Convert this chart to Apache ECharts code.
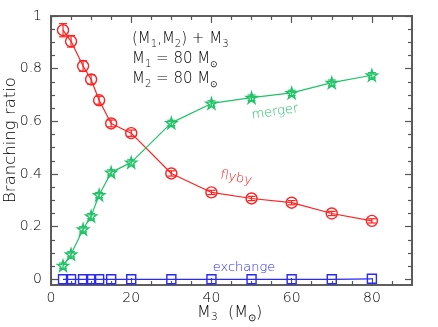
<!DOCTYPE html>
<html><head><meta charset="utf-8">
<script src="https://cdn.jsdelivr.net/npm/echarts@6/dist/echarts.min.js"></script>
<style>html,body{margin:0;padding:0;background:#fff}#c{width:438px;height:327px}</style>
</head><body><div id="c"></div>
<script>
// ---- data ----
const massM3 = [3, 5, 8, 10, 12, 15, 20, 30, 40, 50, 60, 70, 80];
const flyby = [0.946, 0.904, 0.810, 0.759, 0.680, 0.592, 0.555, 0.402, 0.330, 0.307, 0.291, 0.250, 0.222];
const flybyErr = [0.025, 0.022, 0.020, 0.018, 0.015, 0.013, 0.012, 0.010, 0.008, 0.008, 0.008, 0.008, 0.008];
const merger = [0.052, 0.095, 0.190, 0.240, 0.320, 0.406, 0.444, 0.594, 0.668, 0.690, 0.708, 0.747, 0.775];
const mergerErr = [0.010, 0.010, 0.010, 0.010, 0.010, 0.010, 0.010, 0.010, 0.010, 0.010, 0.010, 0.010, 0.010];
const exchange = [0, 0, 0, 0, 0, 0, 0, 0, 0, 0, 0, 0, 0.002];
const xMajorTicks = [0, 20, 40, 60, 80];
const xMinorTicks = [5, 10, 15, 25, 30, 35, 45, 50, 55, 65, 70, 75, 85];
const yMajorTicks = [0, 0.2, 0.4, 0.6, 0.8, 1];
const yMinorTicks = [0.05, 0.1, 0.15, 0.25, 0.3, 0.35, 0.45, 0.5, 0.55, 0.65, 0.7, 0.75, 0.85, 0.9, 0.95];

const RED = '#ff2020', GREEN = '#1fc266', BLUE = '#2828ff', AX = '#555';
const FONT = 'DejaVu Sans';
const FW = 200;
const TXT = '#000';
const X_MIN = 0, X_MAX = 90, Y_MIN = -0.0216, Y_MAX = 1;

function pts(ys) { return massM3.map((x, i) => [x, ys[i]]); }
function errData(ys, es) { return massM3.map((x, i) => [x, ys[i] - es[i], ys[i] + es[i]]); }

function xAx(pos, ticks, len, labels) {
  return {
    type: 'value', position: pos, min: X_MIN, max: X_MAX, gridIndex: 0,
    axisLine: { show: true, onZero: false, lineStyle: { color: AX, width: 1.6 } },
    axisTick: { show: true, inside: true, length: len, customValues: ticks, lineStyle: { color: AX, width: 1.2 } },
    axisLabel: labels ? { show: true, customValues: ticks, fontFamily: FONT, fontWeight: FW, fontSize: 14, color: TXT, margin: 6 } : { show: false },
    splitLine: { show: false }
  };
}
function yAx(pos, ticks, len, labels) {
  return {
    type: 'value', position: pos, min: Y_MIN, max: Y_MAX, gridIndex: 0,
    axisLine: { show: true, onZero: false, lineStyle: { color: AX, width: 1.6 } },
    axisTick: { show: true, inside: true, length: len, customValues: ticks, lineStyle: { color: AX, width: 1.2 } },
    axisLabel: labels ? { show: true, customValues: ticks, fontFamily: FONT, fontWeight: FW, fontSize: 14, color: TXT, margin: 9,
      formatter: v => (Math.abs(v) < 1e-9 ? '0' : (Math.abs(v - 1) < 1e-9 ? '1' : String(+v.toFixed(1)))) } : { show: false },
    splitLine: { show: false }
  };
}

function errSeries(name, ys, es, color) {
  return {
    type: 'custom', name: name, xAxisIndex: 0, yAxisIndex: 0, z: 3,
    data: errData(ys, es),
    renderItem: function (params, api) {
      const x = api.value(0);
      const lo = api.coord([x, api.value(1)]);
      const hi = api.coord([x, api.value(2)]);
      const w = 4;
      const st = { stroke: color, lineWidth: 1.2 };
      return { type: 'group', children: [
        { type: 'line', shape: { x1: lo[0], y1: lo[1], x2: hi[0], y2: hi[1] }, style: st },
        { type: 'line', shape: { x1: lo[0] - w, y1: lo[1], x2: lo[0] + w, y2: lo[1] }, style: st },
        { type: 'line', shape: { x1: hi[0] - w, y1: hi[1], x2: hi[0] + w, y2: hi[1] }, style: st }
      ] };
    }
  };
}

const STAR = 'path://M50,0 L61,35 L98,35 L68,57 L79,91 L50,70 L21,91 L32,57 L2,35 L39,35 Z';

function lineSeries(name, ys, color, symbol, size) {
  return {
    type: 'line', name: name, xAxisIndex: 0, yAxisIndex: 0, z: 4,
    data: pts(ys), symbol: symbol, symbolSize: size, showSymbol: true, animation: false,
    lineStyle: { color: color, width: 1.2 },
    itemStyle: { color: 'rgba(0,0,0,0)', borderColor: color, borderWidth: 1.4 },
    emphasis: { disabled: true }
  };
}

const richBase = {
  t: { fontFamily: FONT, fontWeight: FW, fontSize: 15, color: TXT, lineHeight: 20 },
  s: { fontFamily: FONT, fontWeight: FW, fontSize: 10, color: TXT, lineHeight: 12, verticalAlign: 'bottom' },
  o: { fontFamily: FONT, fontWeight: FW, fontSize: 9, color: TXT, lineHeight: 12, verticalAlign: 'bottom' }
};
const richTitle = {
  t: { fontFamily: FONT, fontWeight: FW, fontSize: 16, color: TXT, lineHeight: 20 },
  s: { fontFamily: FONT, fontWeight: FW, fontSize: 11, color: TXT, lineHeight: 12, verticalAlign: 'bottom' },
  o: { fontFamily: FONT, fontWeight: FW, fontSize: 10, color: TXT, lineHeight: 12, verticalAlign: 'bottom' }
};

const chart = echarts.init(document.getElementById('c'), null, { renderer: 'canvas' });
chart.setOption({
  animation: false,
  backgroundColor: '#fff',
  grid: { left: 51, right: 26, top: 16, bottom: 42, containLabel: false },
  xAxis: [
    xAx('bottom', xMajorTicks, 7, true),
    xAx('bottom', xMinorTicks, 4, false),
    xAx('top', xMajorTicks, 7, false),
    xAx('top', xMinorTicks, 4, false)
  ],
  yAxis: [
    yAx('left', yMajorTicks, 7, true),
    yAx('left', yMinorTicks, 4, false),
    yAx('right', yMajorTicks, 7, false),
    yAx('right', yMinorTicks, 4, false)
  ],
  series: [
    errSeries('flyby err', flyby, flybyErr, RED),
    errSeries('merger err', merger, mergerErr, GREEN),
    lineSeries('flyby', flyby, RED, 'circle', 11),
    lineSeries('merger', merger, GREEN, STAR, 11),
    lineSeries('exchange', exchange, BLUE, 'rect', 9)
  ],
  graphic: [
    { type: 'text', left: 132, top: 32, style: { rich: richBase, text: '{t|(M}{s|1}{t|,M}{s|2}{t|) + M}{s|3}' } },
    { type: 'text', left: 132, top: 52, style: { rich: richBase, text: '{t|M}{s|1}{t| = 80 M}{o|⊙}' } },
    { type: 'text', left: 132, top: 72, style: { rich: richBase, text: '{t|M}{s|2}{t| = 80 M}{o|⊙}' } },
    { type: 'text', x: 275, y: 112, rotation: 0.15, style: { text: 'merger', fontFamily: FONT, fontWeight: FW, fontSize: 13, fill: GREEN, align: 'center', verticalAlign: 'middle' } },
    { type: 'text', x: 236, y: 178, rotation: -0.2, style: { text: 'flyby', fontFamily: FONT, fontWeight: FW, fontSize: 13, fill: RED, align: 'center', verticalAlign: 'middle' } },
    { type: 'text', x: 244, y: 268, style: { text: 'exchange', fontFamily: FONT, fontWeight: FW, fontSize: 13, fill: BLUE, align: 'center', verticalAlign: 'middle' } },
    { type: 'text', x: 11, y: 140, rotation: Math.PI / 2, style: { text: 'Branching ratio', fontFamily: FONT, fontWeight: FW, fontSize: 16.5, fill: TXT, align: 'center', verticalAlign: 'middle' } },
    { type: 'text', left: 197, top: 305, style: { rich: richTitle, text: '{t|M}{s|3}{t|  (M}{o|⊙}{t|)}' } }
  ]
});
</script>
</body></html>
